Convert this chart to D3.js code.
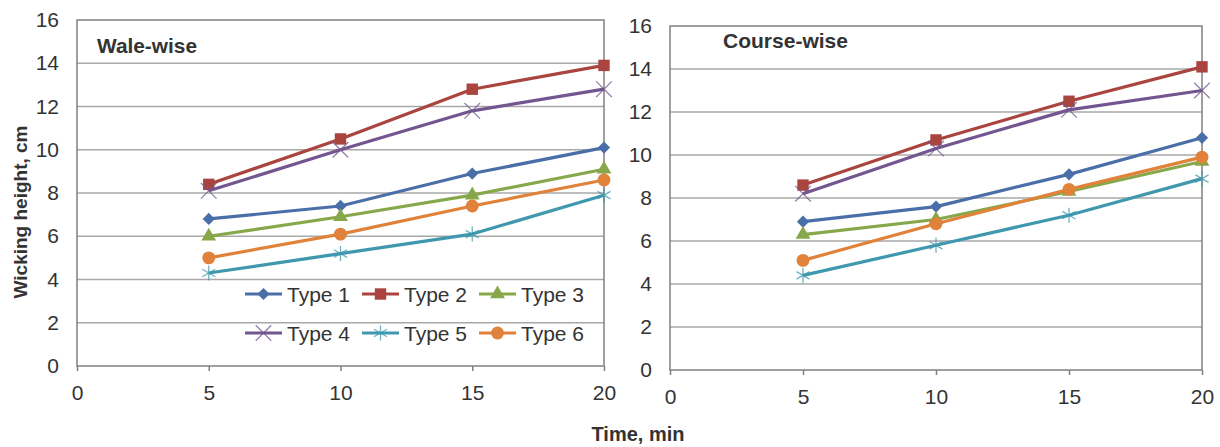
<!DOCTYPE html>
<html>
<head>
<meta charset="utf-8">
<script src="https://cdn.jsdelivr.net/npm/d3@7"></script>
<style>
  body { margin: 0; background: #fff; }
  svg text { font-family: "Liberation Sans", Arial, sans-serif; fill: #333; }
</style>
</head>
<body>
<svg id="chart" width="1220" height="447"></svg>
<script>
// data
var times = [5, 10, 15, 20];
var typeNames = ["Type 1", "Type 2", "Type 3", "Type 4", "Type 5", "Type 6"];
var typeColors = ["#4a6fa8", "#a9443f", "#86a84a", "#73558f", "#3f98ad", "#e0823a"];
var xTicks = [0, 5, 10, 15, 20];
var yTicks = [0, 2, 4, 6, 8, 10, 12, 14, 16];

// wale-wise, one array per type
var wale1 = [6.8, 7.4, 8.9, 10.1];
var wale2 = [8.4, 10.5, 12.8, 13.9];
var wale3 = [6.0, 6.9, 7.9, 9.1];
var wale4 = [8.1, 10.0, 11.8, 12.8];
var wale5 = [4.3, 5.2, 6.1, 7.9];
var wale6 = [5.0, 6.1, 7.4, 8.6];

// course-wise
var course1 = [6.9, 7.6, 9.1, 10.8];
var course2 = [8.6, 10.7, 12.5, 14.1];
var course3 = [6.3, 7.0, 8.3, 9.7];
var course4 = [8.2, 10.3, 12.1, 13.0];
var course5 = [4.4, 5.8, 7.2, 8.9];
var course6 = [5.1, 6.8, 8.4, 9.9];

var svg = d3.select("#chart");

// excel-like diamond (square rotated 45deg)
var squareDiamond = {
  draw: function(ctx, size) {
    var r = Math.sqrt(size / 2);
    ctx.moveTo(0, -r); ctx.lineTo(r, 0); ctx.lineTo(0, r); ctx.lineTo(-r, 0); ctx.closePath();
  }
};

var markerTypes = [
  {sym: squareDiamond, size: 75, fill: true},
  {sym: d3.symbolSquare, size: 130, fill: true},
  {sym: d3.symbolTriangle, size: 95, fill: true},
  {sym: d3.symbolTimes, size: 160, fill: false},
  {sym: d3.symbolAsterisk, size: 160, fill: false},
  {sym: d3.symbolCircle, size: 130, fill: true}
];

function drawMarker(g, i, x, y) {
  var m = markerTypes[i];
  g.append("path")
    .attr("d", d3.symbol().type(m.sym).size(m.size)())
    .attr("transform", "translate(" + x + "," + y + ")")
    .attr("fill", m.fill ? typeColors[i] : "none")
    .attr("stroke", typeColors[i])
    .attr("stroke-width", m.fill ? 0 : 1.3)
    .attr("opacity", m.fill ? 1 : 0.75);
}

function drawPanel(p) {
  var x = d3.scaleLinear().domain([0, 20]).range([p.left, p.right]);
  var y = d3.scaleLinear().domain([0, 16]).range([p.bottom, p.top]);
  var g = svg.append("g");

  // gridlines
  g.selectAll(".grid").data(yTicks.slice(1, -1)).enter().append("line")
    .attr("x1", p.left).attr("x2", p.right)
    .attr("y1", function(d){ return y(d); })
    .attr("y2", function(d){ return y(d); })
    .attr("stroke", "#a8a8a8").attr("stroke-width", 1.5);

  // box
  g.append("rect")
    .attr("x", p.left).attr("y", p.top)
    .attr("width", p.right - p.left).attr("height", p.bottom - p.top)
    .attr("fill", "none").attr("stroke", "#808080").attr("stroke-width", 1.5);

  // x ticks + labels
  var xa = g.append("g").attr("transform", "translate(0," + p.bottom + ")")
    .call(d3.axisBottom(x).tickValues(xTicks).tickSize(5).tickPadding(14));
  xa.select(".domain").remove();
  xa.selectAll("line").attr("stroke", "#808080").attr("stroke-width", 1.5);
  xa.selectAll("text").attr("font-size", 21).attr("fill", "#333")
    .attr("font-family", "Liberation Sans, Arial, sans-serif");

  var ya = g.append("g").attr("transform", "translate(" + p.left + ",0)")
    .call(d3.axisLeft(y).tickValues(yTicks).tickSize(0).tickPadding(18));
  ya.select(".domain").remove();
  ya.selectAll("text").attr("font-size", 21).attr("fill", "#333")
    .attr("font-family", "Liberation Sans, Arial, sans-serif");

  // panel title
  g.append("text").attr("x", p.titleX).attr("y", p.titleY)
    .attr("font-size", 21).attr("font-weight", "bold")
    .attr("textLength", p.titleW).attr("lengthAdjust", "spacingAndGlyphs")
    .attr("fill", "#222")
    .text(p.title);

  var line = d3.line()
    .x(function(d, i){ return x(times[i]); })
    .y(function(d){ return y(d); });

  p.series.forEach(function(vals, i) {
    g.append("path").datum(vals)
      .attr("d", line)
      .attr("fill", "none")
      .attr("stroke", typeColors[i])
      .attr("stroke-width", 3.2)
      .attr("stroke-linejoin", "round");
    vals.forEach(function(v, j) {
      drawMarker(g, i, x(times[j]), y(v));
    });
  });
}

drawPanel({
  left: 77, right: 604, top: 20, bottom: 366,
  title: "Wale-wise", titleX: 97, titleY: 53, titleW: 100,
  series: [wale1, wale2, wale3, wale4, wale5, wale6]
});

drawPanel({
  left: 670, right: 1202, top: 26, bottom: 370,
  title: "Course-wise", titleX: 723, titleY: 48, titleW: 125,
  series: [course1, course2, course3, course4, course5, course6]
});

// legend, inside the left panel
var legend = svg.append("g");
typeNames.forEach(function(name, i) {
  var col = i % 3, row = Math.floor(i / 3);
  var lx = 245 + col * 117, ly = 294 + row * 39;
  legend.append("line")
    .attr("x1", lx).attr("x2", lx + 37).attr("y1", ly).attr("y2", ly)
    .attr("stroke", typeColors[i]).attr("stroke-width", 3.2);
  drawMarker(legend, i, lx + 18.5, ly);
  legend.append("text")
    .attr("x", lx + 42).attr("y", ly).attr("dy", "0.36em")
    .attr("font-size", 21)
    .text(name);
});

// axis titles
svg.append("text")
  .attr("transform", "translate(27,212) rotate(-90)")
  .attr("text-anchor", "middle")
  .attr("font-size", 19).attr("font-weight", "bold").attr("fill", "#222")
  .text("Wicking height, cm");

svg.append("text")
  .attr("x", 638).attr("y", 441)
  .attr("text-anchor", "middle")
  .attr("font-size", 20).attr("font-weight", "bold").attr("fill", "#222")
  .text("Time, min");
</script>
</body>
</html>
